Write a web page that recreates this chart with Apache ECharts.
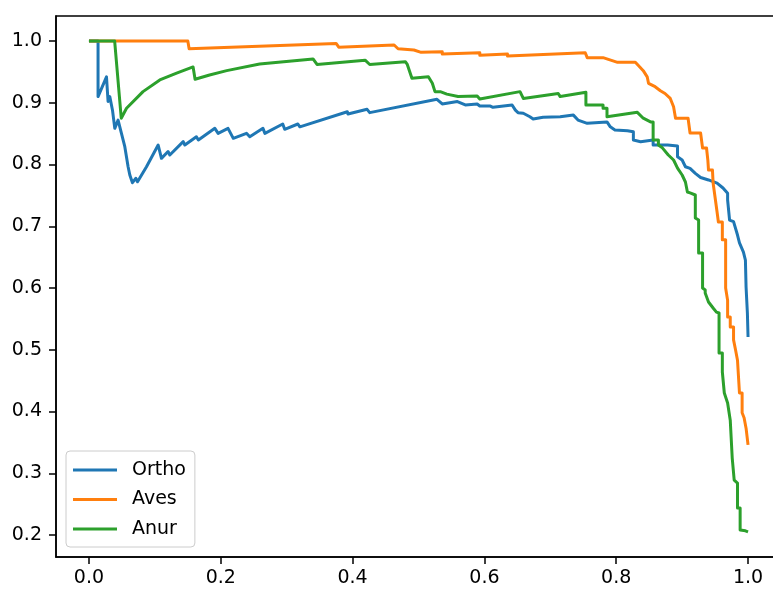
<!DOCTYPE html>
<html>
<head>
<meta charset="utf-8">
<script src="https://cdn.jsdelivr.net/npm/echarts@6.0.0/dist/echarts.min.js"></script>
<style>
  html, body { margin: 0; padding: 0; background: #fff; overflow: hidden; }
  #chart { width: 800px; height: 590px; }
</style>
</head>
<body>
<div id="chart"></div>
<script>
// precision-recall points, [recall, precision]
const orthoPR = [
  [0, 1], [0.0138, 1], [0.0138, 0.91], [0.0164, 0.91], [0.0266, 0.942], [0.029, 0.902],
  [0.0316, 0.91], [0.0357, 0.888], [0.0392, 0.8586], [0.0442, 0.872], [0.0494, 0.85],
  [0.0544, 0.8288], [0.057, 0.8316], [0.0594, 0.7964], [0.062, 0.783], [0.066, 0.7705],
  [0.071, 0.7777], [0.0737, 0.772], [0.0873, 0.7964], [0.105, 0.8316], [0.11, 0.81],
  [0.12, 0.821], [0.1227, 0.8154], [0.143, 0.837], [0.1455, 0.8316], [0.163, 0.845],
  [0.166, 0.8397], [0.191, 0.8586], [0.196, 0.8505], [0.211, 0.8586], [0.219, 0.8424],
  [0.239, 0.8505], [0.244, 0.845], [0.264, 0.8586], [0.267, 0.8505], [0.294, 0.8656],
  [0.297, 0.857], [0.317, 0.8656], [0.32, 0.861], [0.392, 0.8855], [0.393, 0.8818],
  [0.422, 0.8894], [0.426, 0.884], [0.528, 0.9056], [0.536, 0.898], [0.559, 0.902],
  [0.571, 0.8964], [0.589, 0.898], [0.593, 0.8947], [0.609, 0.8947], [0.613, 0.8926],
  [0.642, 0.8964], [0.647, 0.888], [0.651, 0.884], [0.659, 0.883], [0.669, 0.8774],
  [0.674, 0.8737], [0.689, 0.8764], [0.715, 0.8774], [0.735, 0.88], [0.742, 0.872],
  [0.756, 0.8667], [0.786, 0.869], [0.791, 0.861], [0.798, 0.856], [0.817, 0.8547],
  [0.826, 0.853], [0.826, 0.8397], [0.837, 0.837], [0.856, 0.8397], [0.856, 0.8316],
  [0.878, 0.8316], [0.893, 0.83], [0.893, 0.8126], [0.9, 0.8073], [0.905, 0.7964],
  [0.912, 0.7938], [0.92, 0.7857], [0.928, 0.779], [0.94, 0.775], [0.953, 0.77],
  [0.962, 0.762], [0.969, 0.7534], [0.969, 0.7425], [0.972, 0.71], [0.978, 0.7074],
  [0.984, 0.6858], [0.987, 0.673], [0.993, 0.658], [0.996, 0.6453], [0.997, 0.6016],
  [0.999, 0.5595], [1.0, 0.5206]
]

const avesPR = [
  [0, 1], [0.15, 1], [0.152, 0.9875], [0.375, 0.996], [0.379, 0.99], [0.463, 0.9935],
  [0.469, 0.9875], [0.493, 0.9854], [0.504, 0.9817], [0.536, 0.9827], [0.536, 0.979],
  [0.593, 0.981], [0.593, 0.977], [0.635, 0.979], [0.635, 0.9757], [0.753, 0.981],
  [0.756, 0.973], [0.78, 0.973], [0.78, 0.97], [0.802, 0.9655], [0.829, 0.9655],
  [0.834, 0.96], [0.841, 0.952], [0.847, 0.942], [0.849, 0.9315], [0.859, 0.926],
  [0.867, 0.9195], [0.874, 0.915], [0.882, 0.907], [0.887, 0.8936], [0.89, 0.875],
  [0.909, 0.875], [0.912, 0.851], [0.928, 0.851], [0.931, 0.8267], [0.937, 0.8267],
  [0.939, 0.807], [0.94, 0.791], [0.946, 0.791], [0.947, 0.77], [0.95, 0.77],
  [0.953, 0.723], [0.955, 0.723], [0.955, 0.707], [0.961, 0.707], [0.961, 0.678],
  [0.966, 0.678], [0.966, 0.6], [0.969, 0.58], [0.969, 0.553], [0.973, 0.553],
  [0.973, 0.537], [0.978, 0.537], [0.978, 0.516], [0.981, 0.516], [0.981, 0.5],
  [0.984, 0.5], [0.984, 0.483], [0.987, 0.483], [0.987, 0.43], [0.991, 0.43],
  [0.991, 0.398], [0.994, 0.39], [0.997, 0.373], [1.0, 0.346]
]

const anurPR = [
  [0, 1], [0.039, 1], [0.049, 0.875], [0.057, 0.891], [0.082, 0.918], [0.1075, 0.937],
  [0.133, 0.948], [0.158, 0.958], [0.161, 0.938], [0.183, 0.945], [0.209, 0.952],
  [0.259, 0.9628], [0.34, 0.971], [0.346, 0.962], [0.419, 0.969], [0.426, 0.962],
  [0.48, 0.9665], [0.483, 0.962], [0.49, 0.9396], [0.515, 0.942], [0.521, 0.9315],
  [0.525, 0.918], [0.533, 0.918], [0.543, 0.914], [0.56, 0.91], [0.589, 0.911],
  [0.593, 0.906], [0.654, 0.918], [0.659, 0.907], [0.712, 0.915], [0.715, 0.91],
  [0.754, 0.917], [0.754, 0.8964], [0.78, 0.8964], [0.78, 0.891], [0.786, 0.891],
  [0.786, 0.8774], [0.832, 0.8845], [0.841, 0.875], [0.852, 0.869], [0.856, 0.869],
  [0.856, 0.8397], [0.864, 0.8397], [0.864, 0.8316], [0.87, 0.827], [0.879, 0.8154],
  [0.887, 0.8073], [0.893, 0.794], [0.9, 0.783], [0.905, 0.7717], [0.908, 0.7555],
  [0.912, 0.754], [0.92, 0.7506], [0.92, 0.7134], [0.925, 0.71], [0.925, 0.6567],
  [0.931, 0.6567], [0.931, 0.6], [0.935, 0.5968], [0.935, 0.592], [0.94, 0.5773],
  [0.947, 0.5676], [0.952, 0.561], [0.956, 0.5595], [0.956, 0.4947], [0.961, 0.4947],
  [0.961, 0.464], [0.964, 0.464], [0.964, 0.43], [0.969, 0.4138], [0.973, 0.386],
  [0.976, 0.386], [0.976, 0.3247], [0.979, 0.289], [0.984, 0.2842], [0.984, 0.2437],
  [0.988, 0.2437], [0.988, 0.208], [0.996, 0.2068], [1.0, 0.2052]
]

const seriesNames = ['Ortho', 'Aves', 'Anur']
const seriesColors = ['#1f77b4', '#ff7f0e', '#2ca02c']
const xTicks = [0, 0.2, 0.4, 0.6, 0.8, 1.0]
const yTicks = [0.2, 0.3, 0.4, 0.5, 0.6, 0.7, 0.8, 0.9, 1.0]

const FONT = 'DejaVu Sans'
const chart = echarts.init(document.getElementById('chart'), null, { renderer: 'canvas' })

const axisCommon = {
  axisLine: { show: true, onZero: false, lineStyle: { color: '#000', width: 1.5 } },
  axisTick: { show: true, length: 7, inside: false, lineStyle: { color: '#000', width: 1.5 } },
  splitLine: { show: false },
  axisLabel: {
    color: '#000',
    fontFamily: FONT,
    fontSize: 19,
    formatter: v => Number(v).toFixed(1)
  }
}

const option = {
  animation: false,
  backgroundColor: '#fff',
  color: seriesColors,
  grid: {
    left: 56,
    top: 16,
    width: 725,
    height: 541,
    show: true,
    borderColor: '#000',
    borderWidth: 1.5,
    containLabel: false
  },
  legend: {
    orient: 'vertical',
    left: 66,
    top: 451,
    data: seriesNames,
    icon: 'rect',
    itemWidth: 44,
    itemHeight: 3,
    itemGap: 9.5,
    padding: [9, 9, 8, 7],
    backgroundColor: '#fff',
    borderColor: '#cccccc',
    borderWidth: 1,
    borderRadius: 4,
    textStyle: {
      fontFamily: FONT,
      fontSize: 19,
      color: '#000',
      lineHeight: 20,
      padding: [0, 0, 0, 10]
    }
  },
  xAxis: {
    type: 'value',
    min: -0.05,
    max: 1.05,
    ...axisCommon,
    axisTick: { ...axisCommon.axisTick, customValues: xTicks },
    axisLabel: { ...axisCommon.axisLabel, margin: 12, customValues: xTicks }
  },
  yAxis: {
    type: 'value',
    min: 0.1644,
    max: 1.0405,
    ...axisCommon,
    axisTick: { ...axisCommon.axisTick, customValues: yTicks },
    axisLabel: { ...axisCommon.axisLabel, margin: 14, customValues: yTicks }
  },
  series: [orthoPR, avesPR, anurPR].map((data, i) => ({
    name: seriesNames[i],
    type: 'line',
    data: data,
    showSymbol: false,
    symbol: 'none',
    lineStyle: { width: 3, color: seriesColors[i], join: 'round', cap: 'butt' },
    itemStyle: { color: seriesColors[i] },
    emphasis: { disabled: true }
  }))
}

chart.setOption(option)
</script>
</body>
</html>
